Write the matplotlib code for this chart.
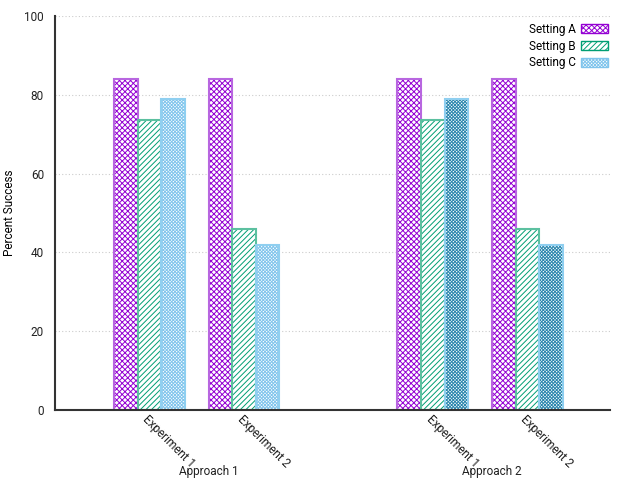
import numpy as np
import matplotlib.pyplot as plt

plt.rcParams['font.family'] = ['Roboto', 'DejaVu Sans']
plt.rcParams['hatch.linewidth'] = 0.7

# datos
approaches = ['Approach 1', 'Approach 2']
experiments = ['Experiment 1', 'Experiment 2']
settings = ['Setting A', 'Setting B', 'Setting C']
setting_a = [84, 84, 84, 84]
setting_b = [73.5, 46, 73.5, 46]
setting_c = [79, 42, 79, 42]

# posiciones de los grupos (unidad = ancho de barra)
centros = np.array([4, 8, 16, 20])
ancho = 1.0

hatch_col = ['#9400D3', '#009E73', '#80c4ec']
borde_col = ['#b866e0', '#5cc0a0', '#8fcff0']
hatches = ['x' * 6, '/' * 6, 'x' * 10]

fig = plt.figure(figsize=(6.4, 4.8), dpi=100)
ax = fig.add_axes([55/640, 70/480, 555/640, 394/480])

valores = [setting_a, setting_b, setting_c]
for i, vals in enumerate(valores):
    x = centros + (i - 1) * ancho
    hc = [hatch_col[i]] * 4
    if i == 2:
        hc = [hatch_col[i], hatch_col[i], '#2a86ad', '#2a86ad']
    ax.bar(x, vals, width=ancho, color='white', edgecolor=hc,
           hatch=hatches[i], linewidth=0, label=settings[i])
    ax.bar(x, vals, width=ancho, fill=False, edgecolor=borde_col[i],
           linewidth=1.5)

ax.set_xlim(0, 23.5)
ax.set_ylim(0, 100)
ax.set_yticks([0, 20, 40, 60, 80, 100])
ax.yaxis.grid(True, linestyle=(0, (1, 2)), color='#cccccc', linewidth=0.8)
ax.set_axisbelow(True)
for s in ['top', 'right']:
    ax.spines[s].set_visible(False)
ax.spines['left'].set_color('#333333')
ax.spines['bottom'].set_color('#333333')
ax.spines['left'].set_linewidth(1.5)
ax.spines['bottom'].set_linewidth(1.5)
ax.tick_params(axis='both', length=0, labelsize=8.5, colors='#222222')
ax.tick_params(axis='y', pad=8)
ax.tick_params(axis='x', pad=2)

ax.set_xticks(centros)
ax.set_xticklabels(experiments * 2, rotation=-45, ha='left', va='top',
                   rotation_mode='anchor')
ax.set_ylabel('Percent Success', fontsize=8.5)
ax.yaxis.set_label_coords(-0.07, 0.5)

trans = ax.get_xaxis_transform()
for j, ap in enumerate(approaches):
    xc = (centros[2*j] + centros[2*j+1]) / 2 + 0.5
    ax.text(xc, -0.155, ap, transform=trans, ha='center', va='center',
            fontsize=8.5, color='#222222')

# leyenda
handles, labels = ax.get_legend_handles_labels()
leg = ax.legend(handles, labels, loc='upper right', frameon=False,
                markerfirst=False, fontsize=8.5, handlelength=2.3,
                handleheight=0.8, labelspacing=0.3, handletextpad=0.5,
                borderaxespad=0, borderpad=0.6,
                bbox_to_anchor=(1.01, 1.0))
for h in leg.legend_handles:
    h.set_linewidth(1.0)

plt.savefig('out.png', dpi=100)
